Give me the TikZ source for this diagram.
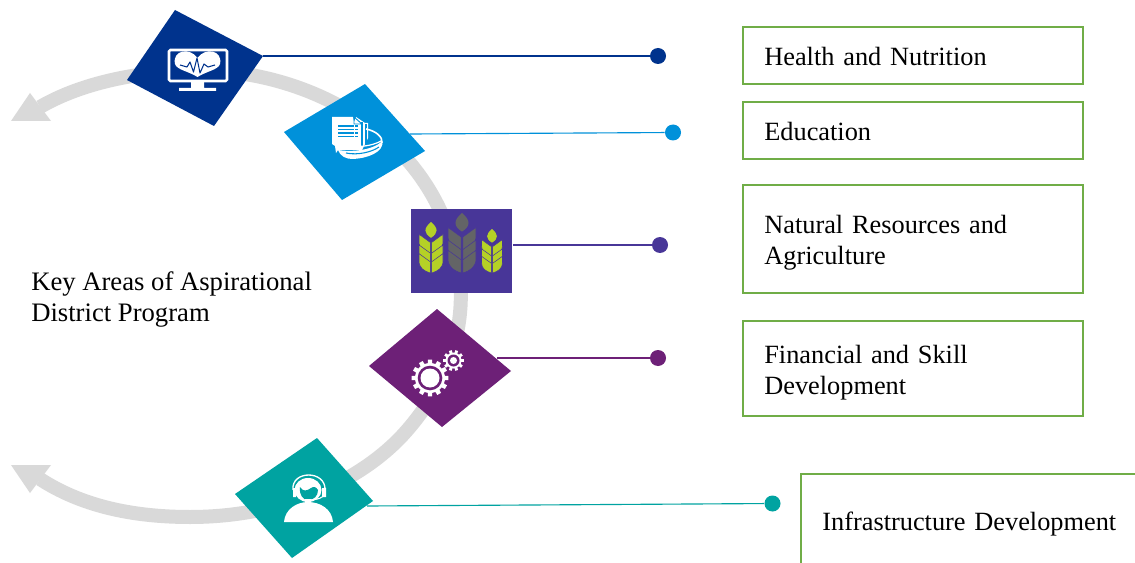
\documentclass[tikz,border=0pt]{standalone}
\usepackage{fontspec}
\setmainfont{Liberation Serif}
\usetikzlibrary{calc}
\definecolor{cnavy}{HTML}{00338D}
\definecolor{cblue}{HTML}{0091DA}
\definecolor{cindigo}{HTML}{483698}
\definecolor{cplum}{HTML}{6D2077}
\definecolor{cteal}{HTML}{00A3A1}
\definecolor{cgray}{HTML}{D9D9D9}
\definecolor{cgreen}{HTML}{70AD47}
\definecolor{cwheat}{HTML}{B5D126}
\definecolor{cwheatd}{HTML}{636466}
\tikzset{
  tile/.style={fill=#1,draw=none},
  leader/.style={draw=#1,line width=.85pt},
  enddot/.style={circle,fill=#1,draw=none,minimum size=12pt,inner sep=0pt},
  areabox/.style={draw=cgreen,line width=2.2pt,fill=white,anchor=north west,align=left,outer sep=0pt,
    font=\fontsize{19.75}{23.25}\selectfont,inner xsep=16pt,inner ysep=0pt,text width=#1},
}
\newcommand{\wheatstalk}[5]{%
\begin{scope}[shift={(#1,#2)},x=#3*.75pt,y=-#4*.75pt]
 \fill[#5] (0,0) .. controls (.62,.12) and (.62,.22) .. (0,.31) .. controls (-.62,.22) and (-.62,.12) .. (0,0) -- cycle;
 \foreach \b in {.62,.83,1}{
  \filldraw[#5,draw=cindigo,line width=.4pt] (-.06,\b) .. controls (-.6,\b-.04) and (-1,\b-.1) .. (-1,\b-.24) -- (-1,\b-.38) -- (-.06,\b-.22) -- cycle;
  \filldraw[#5,draw=cindigo,line width=.4pt] (.06,\b) .. controls (.6,\b-.04) and (1,\b-.1) .. (1,\b-.24) -- (1,\b-.38) -- (.06,\b-.22) -- cycle;
 }
\end{scope}}
\newcommand{\gearicon}[6]{% x y teeth rout rin hole
\fill[white] (#1,#2) circle[radius=#5];
\foreach \a in {1,...,#3}{
  \fill[white] ($(#1,#2)+({360/#3*\a-360/#3*.22}:#4)$) -- ($(#1,#2)+({360/#3*\a+360/#3*.22}:#4)$)
   -- ($(#1,#2)+({360/#3*\a+360/#3*.3}:#5-.5)$) -- ($(#1,#2)+({360/#3*\a-360/#3*.3}:#5-.5)$) -- cycle;
}
\fill[cplum] (#1,#2) circle[radius=#6];
}
\begin{document}
\begin{tikzpicture}[x=.75pt,y=-.75pt]
\useasboundingbox (0,0) rectangle (1135,563);
\clip (0,0) rectangle (1135,563);
\fill[white] (0,0) rectangle (1135,563);

% the two grey sweeps
\draw[cgray,line width=10.5pt] (40,107) .. controls (90,78) and (160,68) .. (220,71)
  .. controls (310,78) and (400,125) .. (440,210)
  .. controls (474,276) and (470,363) .. (401,437)
  .. controls (350,490) and (270,517) .. (190,517)
  .. controls (130,517) and (80,505) .. (40,479);
\fill[cgray] (11,121) -- (30,93) -- (51,121) -- cycle;
\fill[cgray] (11,465) -- (51,465) -- (30,493) -- cycle;

% leader lines and dots
\coordinate (hs) at (263,56);   \node[enddot=cnavy]   (hd) at (658,56) {};
\coordinate (es) at (410,134);  \node[enddot=cblue]   (ed) at (673,132.5) {};
\coordinate (ns) at (513,245);  \node[enddot=cindigo] (nd) at (660,245) {};
\coordinate (fs) at (497,358);  \node[enddot=cplum]   (fd) at (658,358) {};
\coordinate (is) at (367,506);  \node[enddot=cteal]   (id) at (772.5,503.5) {};
\draw[leader=cnavy]   (hs) -- (hd);
\draw[leader=cblue]   (es) -- (ed);
\draw[leader=cindigo] (ns) -- (nd);
\draw[leader=cplum]   (fs) -- (fd);
\draw[leader=cteal]   (is) -- (id);

% tiles
\fill[tile=cnavy] (175,10) -- (263,56) -- (214,126) -- (127,80) -- cycle;
\fill[tile=cblue] (365,84) -- (425,151) -- (342,200) -- (284,132) -- cycle;
\node[fill=cindigo,draw=none,inner sep=0pt,minimum width=75.75pt,minimum height=63pt] (agri) at (461.5,251) {};
\fill[tile=cplum] (437,309) -- (511,371) -- (442,427) -- (369,366) -- cycle;
\fill[tile=cteal] (317,438) -- (373,501) -- (292,558) -- (235,494) -- cycle;

% health icon
\draw[white,line width=1.9pt,rounded corners=1pt] (169,50) rectangle (227,81);
\fill[white] (191,81) rectangle (204,88) (179,88) rectangle (216,91);
\fill[white] (197.5,58) .. controls (190,47) and (172,50) .. (175,64)
  .. controls (177,70) and (188,71) .. (197.5,77)
  .. controls (207,71) and (218,70) .. (220,64)
  .. controls (223,50) and (205,47) .. (197.5,58) -- cycle;
\draw[cnavy,line width=.8pt,line join=round] (180,65) -- (187,67) -- (190,62) -- (193.5,72) -- (197,58) -- (200,73) -- (204,64) -- (208,67) -- (215,65);

% education icon
\fill[white] (332,117) -- (353,117) -- (354,122) -- (356,117) -- (365,123) -- (368,123) -- (368,138) -- (362,150) -- (338,150) -- (336,153) -- (335,146) -- (332,144) -- cycle;
\draw[cblue,line width=.7pt] (354,117) -- (362,124) -- (354,124) -- cycle;
\foreach \yy in {126,129.5,133,136.5}{\draw[cblue,line width=1pt,dash pattern=on 12pt off 1pt] (338,\yy) -- (358,\yy);}
\draw[cblue,line width=.8pt] (362,122) -- (362,147) (366,124) -- (366,147);
\draw[white,line width=1.2pt] (366,129) .. controls (376,131) and (383,137) .. (382,143);
\draw[white,line width=.9pt] (346,145) .. controls (358,148) and (372,146) .. (381,141);
\fill[white] (338,150) .. controls (350,152) and (372,151) .. (382.5,141)
  .. controls (384,152) and (368,158.5) .. (352,159) .. controls (346,159) and (340,156) .. (338,150) -- cycle;
\draw[cblue,line width=.8pt] (346,153) .. controls (358,155.5) and (372,152) .. (379,147);

% wheat icon
\wheatstalk{431}{222}{12}{51}{cwheat}
\wheatstalk{462}{213}{14}{60}{cwheatd}
\wheatstalk{492}{229}{10.5}{44}{cwheat}

% gears icon
\gearicon{430}{378}{12}{18.5}{15}{12.3}
\fill[white] (430,378) circle[radius=9.5];
\gearicon{453.5}{360.5}{10}{10.5}{8}{6}
\fill[white] (453.5,360.5) circle[radius=3.5];

% headset person
\fill[white] (284,522) .. controls (285,509) and (297,502) .. (308,502) .. controls (320,502) and (332,509) .. (333,522) -- cycle;
\fill[white] (308,490) ellipse[x radius=13.5,y radius=12];
\fill[cteal] (300,487) .. controls (303,492) and (307,491) .. (311,488) .. controls (314,486) and (316,487) .. (318,490)
  .. controls (318,496) and (314,500) .. (308,500) .. controls (303,500) and (299,495) .. (300,487) -- cycle;
\draw[white,line width=1pt] (293,490) .. controls (291,470) and (326,470) .. (325,490);
\draw[white,line width=.8pt] (325,493) .. controls (324,498) and (318,500) .. (306,500);
\fill[white] (293,488) rectangle (296,497) (322,488) rectangle (326,497);
\fill[white] (305,499) rectangle (311,501);

% boxes
\node[areabox=223pt,minimum height=42.75pt] (b1) at (743,27) {\rule{0pt}{15.5pt}Health and Nutrition};
\node[areabox=223pt,minimum height=42.75pt] (b2) at (743,102) {\rule{0pt}{15.5pt}Education};
\node[areabox=223pt,minimum height=81pt] (b3) at (743,185) {\rule{0pt}{19pt}Natural Resources and\\Agriculture};
\node[areabox=223pt,minimum height=71.25pt] (b4) at (743,321) {\rule{0pt}{20.5pt}Financial and Skill\\Development};
\node[areabox=300pt,minimum height=75pt] (b5) at (801,474) {Infrastructure Development};

\node[anchor=north west,align=left,inner sep=0pt,font=\fontsize{20}{23.25}\selectfont] (title) at (31,271.5) {Key Areas of Aspirational\\District Program};
\end{tikzpicture}
\end{document}
